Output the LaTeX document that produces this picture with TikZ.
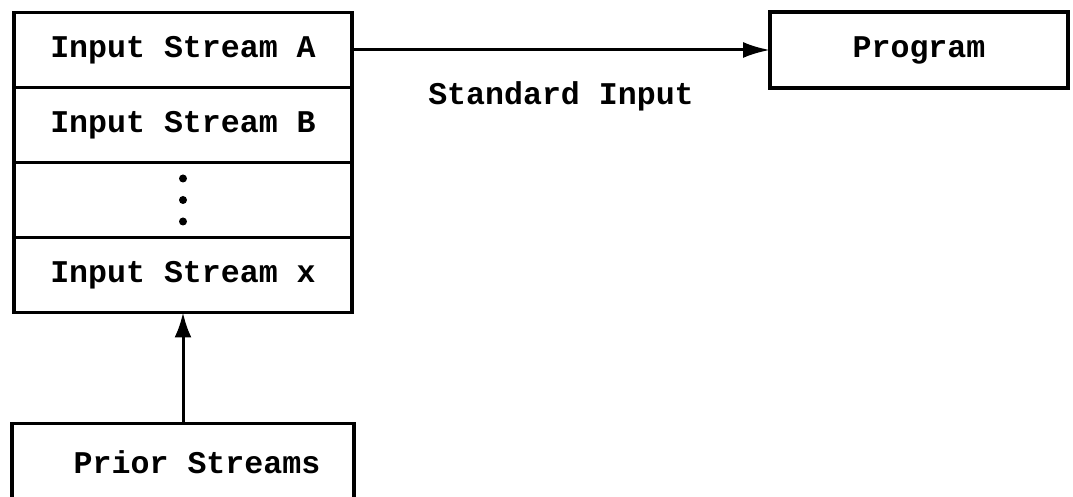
\documentclass[tikz,border=0pt]{standalone}
\usepackage{fontspec}
\setmonofont{Liberation Mono}
\usetikzlibrary{positioning,arrows.meta}

\begin{document}
\begin{tikzpicture}[x=0.5pt,y=0.5pt,line width=1.5pt,
  stream node/.style={draw,line width=1.7pt,outer sep=0pt,inner sep=0pt,
    minimum width=169pt,minimum height=37.5pt,
    font=\ttfamily\bfseries\fontsize{15.8pt}{18pt}\selectfont},
  box node/.style={stream node,minimum width=149pt,minimum height=38pt}]

  \useasboundingbox (0,0) rectangle (1073,497);

  \node[stream node] (A) at (183,447) {Input Stream A};
  \node[stream node] (B) [below=0pt of A] {Input Stream B};
  \node[stream node] (dots) [below=0pt of B] {};
  \node[stream node] (X) [below=0pt of dots] {Input Stream x};
  \node[stream node,minimum width=171pt,minimum height=42pt] (prior) [below=55.5pt of X]
    {\raisebox{3.5pt}{\hspace*{14pt}Prior Streams}};
  \node[box node] (prog) [right=209pt of A] {Program};

  \foreach \dy in {-21.5,0,21.5}
    \fill (dots.center) ++(0,\dy) circle (2pt);

  \draw[-{Latex[length=13.5pt,width=8pt]}] (A.east) -- (A.east -| prog.west)
    node[midway,anchor=base,yshift=-27.5pt,
      font=\ttfamily\bfseries\fontsize{15.8pt}{18pt}\selectfont] {Standard Input};
  \draw[-{Latex[length=12.5pt,width=8.5pt]}] (prior.north) -- (prior.north |- X.south);
\end{tikzpicture}
\end{document}
